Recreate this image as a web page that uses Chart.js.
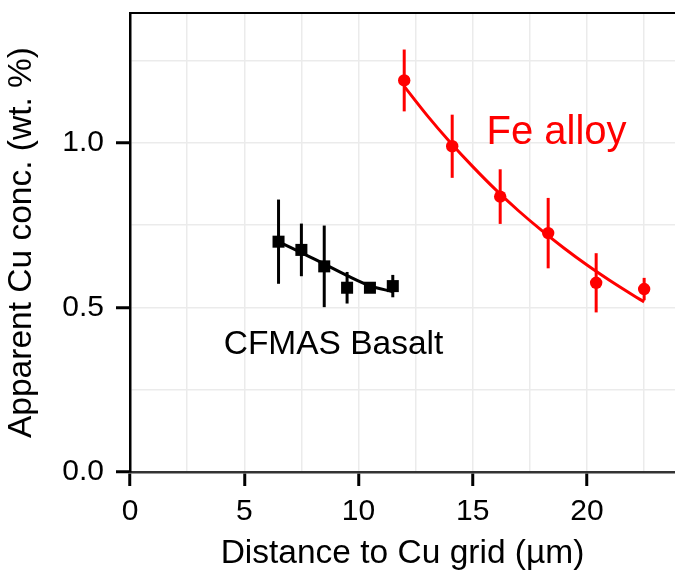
<!DOCTYPE html>
<html>
<head>
<meta charset="utf-8">
<script src="https://cdn.jsdelivr.net/npm/chart.js@4.4.1/dist/chart.umd.min.js"></script>
<style>
  html, body { margin: 0; padding: 0; background: #fff; overflow: hidden; }
  #wrap { width: 675px; height: 574px; }
</style>
</head>
<body>
<div id="wrap"><canvas id="chart"></canvas></div>
<script>
// measured points (CFMAS basalt, squares)
const basaltX = [6.5, 7.5, 8.5, 9.5, 10.5, 11.5];
const basaltY = [0.70, 0.675, 0.625, 0.56, 0.56, 0.565];
const basaltErr = [0.128, 0.08, 0.124, 0.048, 0.012, 0.034];

// measured points (Fe alloy, circles)
const alloyX = [12.0, 14.1, 16.2, 18.3, 20.4, 22.5];
const alloyY = [1.19, 0.99, 0.837, 0.726, 0.575, 0.556];
const alloyErr = [0.094, 0.096, 0.083, 0.107, 0.09, 0.034];

// fitted curves
const basaltFitX = [6.5, 7.5, 8.5, 9.5, 10.5, 11.5];
const basaltFitY = [0.70, 0.667, 0.632, 0.597, 0.566, 0.548];
const alloyFitX = [12, 13, 14, 15, 16, 17, 18, 19, 20, 21, 22, 22.5];
const alloyFitY = [1.172, 1.084, 1.003, 0.928, 0.858, 0.794, 0.735, 0.680, 0.629, 0.582, 0.538, 0.517];

// axis ticks (major + minor grid)
const xTicks = [0, 2.5, 5, 7.5, 10, 12.5, 15, 17.5, 20, 22.5];
const xLabels = [0, 5, 10, 15, 20];
const yTicks = [0, 0.25, 0.5, 0.75, 1.0, 1.25];
const yLabels = [0, 0.5, 1.0];

const FONT = "'Liberation Sans', Arial, sans-serif";
const RED = "#ff0000";

function pts(xs, ys) {
  return xs.map((x, i) => ({ x, y: ys[i] }));
}

function noPad(s) {
  s.paddingTop = 0;
  s.paddingBottom = 0;
  s.paddingLeft = 0;
  s.paddingRight = 0;
}

/* ---------- error bars + top border + labels ---------- */
const extras = {
  id: "extras",
  beforeDatasetsDraw(chart) {
    const { ctx, scales: { x, y } } = chart;
    const bars = [
      [basaltX, basaltY, basaltErr, "#000"],
      [alloyX, alloyY, alloyErr, RED]
    ];
    ctx.save();
    ctx.lineWidth = 3;
    bars.forEach(([xs, ys, es, col]) => {
      ctx.strokeStyle = col;
      xs.forEach((v, i) => {
        const px = x.getPixelForValue(v);
        ctx.beginPath();
        ctx.moveTo(px, y.getPixelForValue(ys[i] - es[i]));
        ctx.lineTo(px, y.getPixelForValue(ys[i] + es[i]));
        ctx.stroke();
      });
    });
    ctx.restore();
  },
  afterDraw(chart) {
    const { ctx, chartArea, scales: { x, y } } = chart;
    ctx.save();
    // top panel border
    ctx.strokeStyle = "#000";
    ctx.lineWidth = 2;
    ctx.beginPath();
    ctx.moveTo(chartArea.left, chartArea.top);
    ctx.lineTo(chartArea.right, chartArea.top);
    ctx.stroke();

    ctx.textAlign = "left";
    ctx.textBaseline = "alphabetic";
    ctx.fillStyle = RED;
    ctx.font = "40px " + FONT;
    ctx.fillText("Fe alloy", x.getPixelForValue(15.6), y.getPixelForValue(0.998));
    ctx.fillStyle = "#000";
    ctx.font = "33.5px " + FONT;
    ctx.fillText("CFMAS Basalt", x.getPixelForValue(4.1), y.getPixelForValue(0.36));
    ctx.restore();
  }
};

new Chart(document.getElementById("chart"), {
  type: "scatter",
  data: {
    datasets: [
      {
        type: "line",
        data: pts(basaltFitX, basaltFitY),
        borderColor: "#000",
        borderWidth: 3,
        pointRadius: 0,
        cubicInterpolationMode: "monotone",
        fill: false
      },
      {
        type: "line",
        data: pts(alloyFitX, alloyFitY),
        borderColor: RED,
        borderWidth: 3,
        pointRadius: 0,
        cubicInterpolationMode: "monotone",
        fill: false
      },
      {
        data: pts(basaltX, basaltY),
        pointStyle: "rect",
        pointRadius: 8.5,
        backgroundColor: "#000",
        borderWidth: 0
      },
      {
        data: pts(alloyX, alloyY),
        pointStyle: "circle",
        pointRadius: 6.2,
        backgroundColor: RED,
        borderWidth: 0
      }
    ]
  },
  plugins: [extras],
  options: {
    responsive: true,
    maintainAspectRatio: false,
    animation: false,
    layout: { autoPadding: false, padding: { top: 13, right: 0, left: 0, bottom: 0 } },
    plugins: {
      legend: { display: false },
      tooltip: { enabled: false }
    },
    scales: {
      x: {
        type: "linear",
        min: 0,
        max: 23.85,
        afterBuildTicks: s => { s.ticks = xTicks.map(v => ({ value: v })); },
        afterFit: s => { s.height = 102; noPad(s); },
        ticks: {
          autoSkip: false,
          maxRotation: 0,
          padding: 8,
          color: "#000",
          font: { family: FONT, size: 30 },
          callback: v => (xLabels.includes(v) ? String(v) : "")
        },
        grid: {
          color: "#ebebeb",
          lineWidth: 1.5,
          tickLength: 14,
          tickWidth: 3,
          tickColor: c => (xLabels.includes(c.tick.value) ? "#000" : "rgba(0,0,0,0)")
        },
        border: { color: "#333", width: 2.5 },
        title: {
          display: true,
          text: "Distance to Cu grid (µm)",
          color: "#000",
          font: { family: FONT, size: 33.5 },
          padding: { top: 0, bottom: 0 }
        }
      },
      y: {
        type: "linear",
        min: 0,
        max: 1.395,
        afterBuildTicks: s => { s.ticks = yTicks.map(v => ({ value: v })); },
        afterFit: s => { s.width = 130; noPad(s); },
        ticks: {
          autoSkip: false,
          padding: 12,
          color: "#000",
          font: { family: FONT, size: 30 },
          callback: v => (yLabels.includes(v) ? v.toFixed(1) : "")
        },
        grid: {
          color: "#ebebeb",
          lineWidth: 1.5,
          tickLength: 14,
          tickWidth: 3,
          tickColor: c => (yLabels.includes(c.tick.value) ? "#000" : "rgba(0,0,0,0)")
        },
        border: { color: "#000", width: 2.5 },
        title: {
          display: true,
          text: "Apparent Cu conc. (wt. %)",
          color: "#000",
          font: { family: FONT, size: 33.5 },
          padding: { top: 2, bottom: 2 }
        }
      }
    }
  }
});
</script>
</body>
</html>
